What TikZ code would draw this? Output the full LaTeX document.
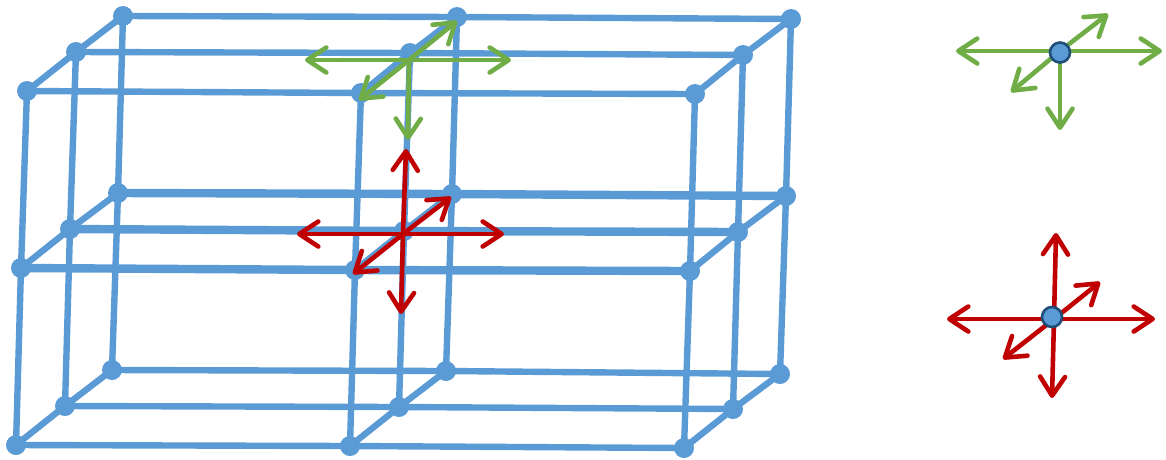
\documentclass[tikz,border=0pt]{standalone}
\usetikzlibrary{arrows.meta}
\definecolor{gridblue}{HTML}{5B9BD5}
\definecolor{edgeblue}{HTML}{1F4E79}
\definecolor{arrgreen}{HTML}{70AD47}
\definecolor{arrred}{HTML}{C00000}
\begin{document}
\begin{tikzpicture}[
        x=1pt, y=-1pt,
        site/.style={circle, fill=gridblue, minimum size=20pt, inner sep=0pt},
        bond/.style={gridblue, line width=6.4pt},
        midbond/.style={gridblue, line width=8.4pt},
        arr/.style={-{Straight Barb[length=19pt,width=25pt,round]}, line width=4.6pt, line cap=round},
        probe/.style={circle, draw=edgeblue, line width=2.6pt, fill=gridblue, minimum size=20pt, inner sep=0pt}
      ]
        \useasboundingbox (0,0) rectangle (1166,459);
        % lattice sites: depth, column, row
        \foreach \d/\c/\r/\x/\y in {
          1/1/1/27/91, 1/2/1/361/93, 1/3/1/695/94,
          1/1/2/21/268, 1/2/2/355/270, 1/3/2/690/271,
          1/1/3/16/445, 1/2/3/350/446, 1/3/3/684/448,
          2/1/1/76/52, 2/2/1/410/53, 2/3/1/743/55,
          2/1/2/70/229, 2/2/2/404/231, 2/3/2/738/232,
          2/1/3/65/406, 2/2/3/399/407, 2/3/3/733/409,
          3/1/1/123/16, 3/2/1/457/17, 3/3/1/791/19,
          3/1/2/118/193, 3/2/2/452/194, 3/3/2/786/196,
          3/1/3/112/370, 3/2/3/446/371, 3/3/3/780/374} {
          \node[site] (s\d\c\r) at (\x,\y) {};
        }
        % bonds
        \foreach \d in {1,2,3} {
          \foreach \c in {1,2,3} {
            \draw[bond] (s\d\c1.center) -- (s\d\c2.center);
            \draw[bond] (s\d\c2.center) -- (s\d\c3.center);
          }
          \foreach \c/\e in {1/2,2/3} {
            \draw[bond] (s\d\c1.center) -- (s\d\e1.center);
            \draw[midbond] (s\d\c2.center) -- (s\d\e2.center);
            \draw[bond] (s\d\c3.center) -- (s\d\e3.center);
          }
        }
        \foreach \c in {1,2,3} {
          \foreach \r in {1,2,3} {
            \draw[bond] (s1\c\r.center) -- (s2\c\r.center);
            \draw[bond] (s2\c\r.center) -- (s3\c\r.center);
          }
        }
        % arrow ends, lattice
        \coordinate (gl) at (409,60);
        \coordinate (gl-w) at (305,60);
        \coordinate (gl-e) at (511,60);
        \coordinate (gl-ne) at (457,21);
        \coordinate (gl-sw) at (359,100);
        \coordinate (gl-s) at (408,140);
        \coordinate (rl) at (403,234);
        \coordinate (rl-n) at (406,149);
        \coordinate (rl-s) at (401,314);
        \coordinate (rl-w) at (297,234);
        \coordinate (rl-e) at (504,234);
        \coordinate (rl-ne) at (451,197);
        \coordinate (rl-sw) at (353,274);
        % arrow ends, right side
        \coordinate (gp) at (1060,51);
        \coordinate (gp-w) at (956,51);
        \coordinate (gp-e) at (1162,51);
        \coordinate (gp-ne) at (1108,14);
        \coordinate (gp-sw) at (1011,92);
        \coordinate (gp-s) at (1060,130);
        \coordinate (rp) at (1054,319);
        \coordinate (rp-n) at (1056,233);
        \coordinate (rp-s) at (1052,398);
        \coordinate (rp-w) at (947,319);
        \coordinate (rp-e) at (1155,319);
        \coordinate (rp-ne) at (1100,282);
        \coordinate (rp-sw) at (1003,359);
        \foreach \t in {w,e,ne,sw,s} {
          \draw[arr, arrgreen] (gl) -- (gl-\t);
          \draw[arr, arrgreen] (gp) -- (gp-\t);
        }
        \foreach \t in {n,s,w,e,ne,sw} {
          \draw[arr, arrred] (rl) -- (rl-\t);
          \draw[arr, arrred] (rp) -- (rp-\t);
        }
        \node[probe] (gn) at (1060,52.5) {};
        \node[probe] (rn) at (1052,317) {};
      \end{tikzpicture}
\end{document}
